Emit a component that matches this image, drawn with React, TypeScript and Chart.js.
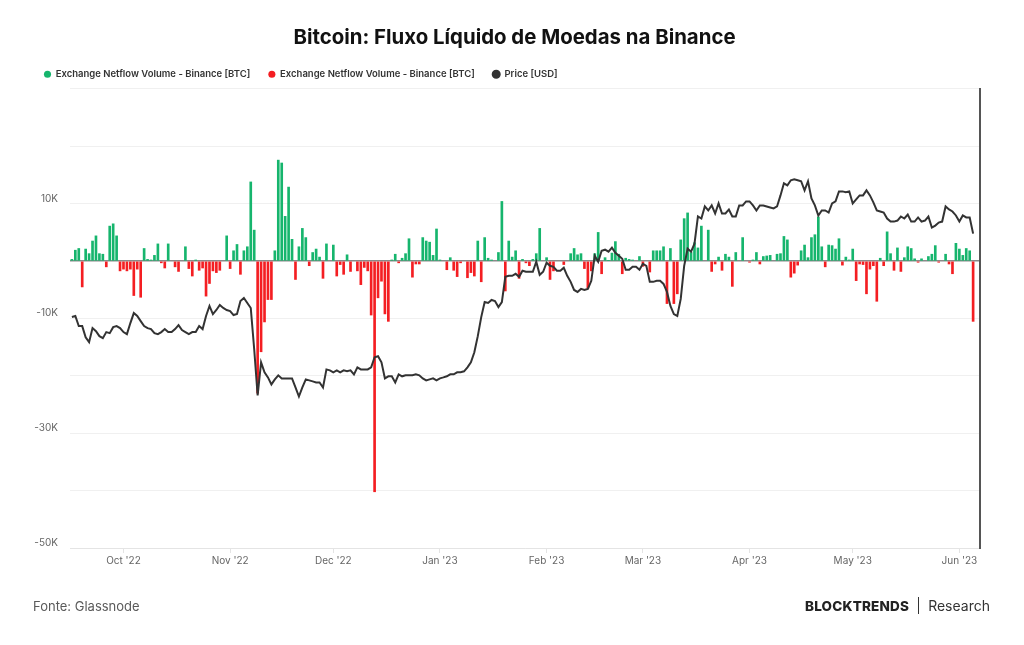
import React, { useEffect, useRef } from "react";
import { Chart, registerables } from "chart.js";

Chart.register(...registerables);

// Daily data from 2022-09-16 (index 0) to 2023-06-05 (index 262)
const startDate = "2022-09-16";

// Exchange netflow volume on Binance, thousands of BTC per day
const netflowK = [
  0.3, 1.9, 2.2, -4.5, 2.1, 1.3, 3.5, 4.4, 1.3, 1.2,
  -1.0, 6.1, 6.5, 4.4, -1.7, -1.4, -1.7, -1.4, -6.0, -1.4,
  -6.3, 2.2, 0.3, 0.2, 1.0, 3.0, -0.3, -1.2, 3.0, 0,
  -1.0, -1.8, 0, 2.5, -1.3, -2.6, 0.2, -1.6, -1.2, -6.1,
  -3.9, -1.7, -2.0, -1.6, 0, 4.4, -1.3, 1.8, 2.9, -2.3,
  1.8, 2.5, 13.8, 5.4, -23.0, -15.8, -10.6, -6.7, -6.7, 1.8,
  17.6, 17.1, 7.8, 12.9, 3.8, -3.2, 2.5, 5.7, 4.1, -0.8,
  1.5, 2.1, 0.7, -3.0, 3.0, 0, 2.8, -2.6, -0.6, -2.3,
  1.1, -1.8, 0, -1.7, -4.1, -1.1, -1.7, -9.4, -40.2, -6.4,
  -3.5, -9.2, -10.5, 0.2, 1.2, -0.3, 0.5, 1.3, 3.9, -2.8,
  -0.5, -0.5, 4.1, 3.5, 3.3, 1.0, 5.6, 0.2, 0, -1.5,
  0.6, -1.6, -2.7, -0.3, 0, -2.9, -2.0, -2.6, 3.5, -3.6,
  4.1, 0.5, 0.2, 0, 1.5, 10.4, -5.2, 3.5, 0.7, 1.8,
  -3.0, 0.3, -0.3, -0.8, 0.3, 1.3, 5.7, 0, 0.6, -3.2,
  -1.7, 0, 0, -0.6, 0, 1.3, 2.2, 1.1, 1.3, -1.3,
  -4.7, -1.7, 1.3, 5.0, -2.2, 0.6, 0.1, 1.4, 3.4, 1.2,
  -2.2, 0.5, 0.3, 0.2, 0, 0.8, -0.9, 0, -1.9, 1.8,
  1.8, 1.8, 2.5, -7.4, 2.2, -7.4, -5.7, 3.7, 7.4, 8.4,
  1.5, 3.2, 2.3, 6.1, 0, 5.4, -1.8, -0.5, 0.7, -1.6,
  1.2, 0.7, -4.4, 1.5, 0, 4.1, 0, -0.2, 0.2, 1.5,
  -0.5, 0.8, 0.9, 1.0, 0, 1.2, 1.3, 4.3, 3.7, -2.8,
  -2.1, -0.7, 1.8, 2.8, 0.6, 4.1, 4.6, 7.7, 2.5, -1.0,
  2.8, 2.7, 2.1, 3.9, -0.7, 0.7, 0.2, 2.1, -3.4, -0.5,
  -0.6, -5.7, -1.4, -0.8, -7.0, 0.5, -0.8, 5.1, 1.3, -1.6,
  2.3, -1.8, 0.6, 2.5, 2.2, 0.4, -0.2, 0.4, 0, 0.8,
  1.2, 2.7, -0.2, 0, 1.2, -0.5, -2.2, 3.1, 2.1, 1.0,
  2.2, 1.8, -10.5,
];

// BTC price in USD, daily
const priceUsd = [
  20090, 20150, 19545, 19545, 18900, 18620, 19427, 19250, 18960, 18845,
  19195, 19135, 19485, 19545, 19425, 19195, 19075, 19725, 20330, 20150,
  19845, 19545, 19425, 19370, 19135, 19075, 19195, 19370, 19195, 19195,
  19370, 19605, 19310, 19195, 19075, 19195, 19195, 19545, 19370, 20150,
  20770, 20270, 20520, 20830, 20645, 20520, 20455, 20210, 20270, 21085,
  21280, 20960, 20645, 18225, 15850, 17520, 17000, 16740, 16390, 16640,
  16845, 16690, 16690, 16690, 16690, 16240, 15800, 16240, 16640, 16590,
  16540, 16490, 16490, 16240, 17150, 17100, 17000, 17100, 17000, 17100,
  17050, 17100, 16895, 17255, 17150, 17150, 17150, 17255, 17790, 17845,
  17520, 16690, 16795, 16795, 16490, 16895, 16795, 16845, 16845, 16845,
  16895, 16845, 16690, 16590, 16640, 16690, 16590, 16690, 16740, 16795,
  16895, 16895, 17000, 17000, 17050, 17255, 17520, 18060, 18960, 20085,
  21020, 20960, 21150, 21085, 20705, 21020, 22680, 22750, 22750, 22890,
  22680, 23100, 23030, 23030, 23030, 23740, 22820, 23030, 23670, 23450,
  23380, 23100, 23100, 23310, 22750, 22340, 21800, 21670, 21870, 21800,
  21870, 22410, 24175, 23740, 24545, 24620, 24470, 24770, 24395, 24175,
  23955, 23170, 23170, 23380, 23380, 23170, 23595, 23450, 22340, 22340,
  22410, 22410, 22200, 21670, 20770, 20270, 20150, 21215, 23450, 24695,
  24470, 25070, 27215, 27050, 28055, 27715, 28140, 27465, 28310, 27465,
  27465, 27800, 27215, 27215, 28140, 28140, 28485, 28485, 28140, 27715,
  28140, 28140, 28055, 27970, 27885, 28055, 29005, 30085, 29900, 30360,
  30450, 30360, 30270, 29450, 30270, 28745, 28140, 27300, 27715, 27715,
  27545, 28310, 28485, 29360, 29360, 29275, 29360, 28310, 28655, 29005,
  29005, 29450, 29005, 28400, 27715, 27630, 27545, 27050, 26800, 26800,
  26885, 27215, 27050, 27380, 26800, 26800, 27135, 26800, 26885, 27215,
  26320, 26480, 26720, 26800, 28055, 27800, 27630, 27300, 26800, 27300,
  27135, 27135, 25845,
];

// Month ticks: day index of the 1st of each month, and their labels
const monthTickDays = [15, 46, 76, 107, 138, 166, 197, 227, 258];
const monthLabels = ["Oct '22", "Nov '22", "Dec '22", "Jan '23", "Feb '23", "Mar '23", "Apr '23", "May '23", "Jun '23"];

// Labelled netflow ticks
const yLabelValues = [10000, -10000, -30000, -50000];

const GREEN = "#16b56d";
const RED = "#f41e22";
const PRICE = "#333333";
const FONT = "Inter, 'Noto Sans', sans-serif";
const SERIES_LABEL = "Exchange Netflow Volume - Binance [BTC]";

export default function App() {
  const canvasRef = useRef<HTMLCanvasElement | null>(null);

  useEffect(() => {
    if (!canvasRef.current) return;
    const inflow = netflowK
      .map((v, i) => ({ x: i, y: v * 1000 }))
      .filter((p) => p.y > 0);
    const outflow = netflowK
      .map((v, i) => ({ x: i, y: v * 1000 }))
      .filter((p) => p.y < 0);
    const price = priceUsd.map((p, i) => ({ x: i, y: p }));

    const chart = new Chart(canvasRef.current, {
      type: "bar",
      data: {
        datasets: [
          {
            type: "bar",
            label: SERIES_LABEL,
            data: inflow,
            backgroundColor: GREEN,
            borderColor: GREEN,
            borderWidth: 0,
            barThickness: 2,
            grouped: false,
            yAxisID: "y",
            order: 2,
          } as any,
          {
            type: "bar",
            label: SERIES_LABEL,
            data: outflow,
            backgroundColor: RED,
            borderColor: RED,
            borderWidth: 0,
            barThickness: 2,
            grouped: false,
            yAxisID: "y",
            order: 3,
          } as any,
          {
            type: "line",
            label: "Price [USD]",
            data: price,
            borderColor: PRICE,
            backgroundColor: PRICE,
            borderWidth: 2,
            pointRadius: 0,
            tension: 0,
            yAxisID: "y1",
            order: 1,
          } as any,
        ],
      },
      options: {
        responsive: false,
        animation: false,
        layout: { padding: { left: 26, right: 21, top: 16, bottom: 77 } },
        plugins: {
          title: {
            display: true,
            text: "Bitcoin: Fluxo Líquido de Moedas na Binance",
            color: "#111",
            font: { family: FONT, size: 20.4, weight: "bold" },
            padding: { top: 10, bottom: 1 },
          },
          legend: {
            display: true,
            position: "top",
            align: "start",
            labels: {
              usePointStyle: true,
              pointStyle: "circle",
              boxWidth: 7,
              boxHeight: 5,
              padding: 18,
              color: "#333",
              font: { family: FONT, size: 9.5, weight: "600" },
              sort: (a: any, b: any) => a.datasetIndex - b.datasetIndex,
            },
          },
          tooltip: { enabled: false },
        },
        scales: {
          x: {
            type: "linear",
            offset: false,
            min: -0.55,
            max: 264,
            afterBuildTicks: (axis: any) => {
              axis.ticks = monthTickDays.map((v) => ({ value: v }));
            },
            afterFit: (s: any) => {
              s.height = 20;
            },
            ticks: {
              autoSkip: false,
              maxRotation: 0,
              padding: 2,
              color: "#666",
              font: { family: FONT, size: 10 },
              callback: (value: any) => {
                const i = monthTickDays.indexOf(Number(value));
                return i >= 0 ? monthLabels[i] : "";
              },
            },
            grid: { offset: false, drawOnChartArea: false, drawTicks: true, tickLength: 5, color: "#e4e4e4" },
            border: { color: "#e4e4e4" },
          },
          y: {
            type: "linear",
            position: "left",
            min: -50000,
            max: 30000,
            afterFit: (s: any) => {
              s.width = 44;
            },
            ticks: {
              stepSize: 10000,
              padding: 12,
              labelOffset: -5,
              color: "#666",
              font: { family: FONT, size: 10 },
              callback: (value: any) =>
                yLabelValues.includes(Number(value)) ? `${Number(value) / 1000}K` : "",
            },
            grid: {
              drawTicks: false,
              color: (ctx: any) => (ctx.tick && ctx.tick.value === 0 ? "#8a8a8a" : "#f0f0f0"),
              lineWidth: (ctx: any) => (ctx.tick && ctx.tick.value === 0 ? 1.5 : 1),
            },
            border: { display: false },
          },
          y1: {
            type: "logarithmic",
            position: "right",
            min: 10000,
            max: 40000,
            afterFit: (s: any) => {
              s.width = 23;
            },
            ticks: { display: false },
            grid: { display: false, drawTicks: false },
            border: { display: true, color: "#555", width: 2 },
          },
        },
      } as any,
    });
    return () => chart.destroy();
  }, []);

  return (
    <div
      style={{
        position: "absolute",
        left: 0,
        top: 0,
        width: 1024,
        height: 645,
        background: "#fff",
        fontFamily: FONT,
      }}
      data-start={startDate}
    >
      <canvas ref={canvasRef} width={1024} height={645} style={{ position: "absolute", left: 0, top: 0 }} />
      <div style={{ position: "absolute", left: 33, top: 598, fontSize: 13, color: "#5a5a5a" }}>Fonte: Glassnode</div>
      <div
        style={{
          position: "absolute",
          right: 34,
          top: 597,
          display: "flex",
          alignItems: "center",
          color: "#222",
        }}
      >
        <span style={{ fontWeight: 800, fontSize: 13.5, letterSpacing: 0.2 }}>BLOCKTRENDS</span>
        <span style={{ display: "inline-block", width: 1, height: 17, background: "#333", margin: "0 9px" }} />
        <span style={{ fontSize: 14, color: "#333" }}>Research</span>
      </div>
    </div>
  );
}
